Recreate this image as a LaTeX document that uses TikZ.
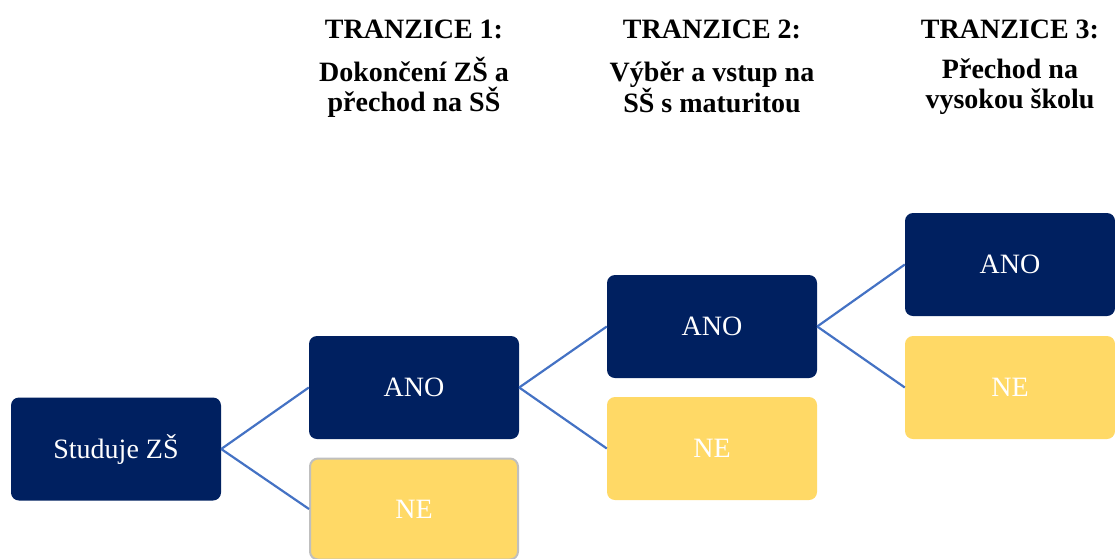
\documentclass[tikz,border=0pt]{standalone}
\usepackage{fontspec}
\setmainfont{Liberation Serif}
\usetikzlibrary{positioning}
\definecolor{AnoColor}{HTML}{002060}
\definecolor{NeColor}{HTML}{FFD966}
\definecolor{EdgeColor}{HTML}{4472C4}

\begin{document}
\begin{tikzpicture}[
      x=1pt,y=-1pt,
      box/.style={rectangle,rounded corners=8pt,minimum width=210pt,minimum height=103pt,inner sep=0pt,text=white,font=\fontsize{28}{30}\selectfont},
      ano/.style={box,fill=AnoColor},
      ne/.style={box,fill=NeColor},
      edge/.style={draw=EdgeColor,line width=2.2pt},
      head/.style={align=center,font=\fontsize{28}{30}\selectfont\bfseries}
    ]
    \useasboundingbox (0,0) rectangle (1115,558);
    \node[ano] (zs) at (116,449) {Studuje ZŠ};
    \node[ano] (ano1) at (414,387.5) {ANO};
    \node[ne,draw=black!25,line width=2pt,minimum width=208pt,minimum height=101pt] (ne1) at (414,509) {NE};
    \node[ano] (ano2) at (712,326.5) {ANO};
    \node[ne] (ne2) at (712,448.5) {NE};
    \node[ano] (ano3) at (1010,264.5) {ANO};
    \node[ne] (ne3) at (1010,387.5) {NE};
    \draw[edge] (zs.east) -- (ano1.west);
    \draw[edge] (zs.east) -- (ne1.west);
    \draw[edge] (ano1.east) -- (ano2.west);
    \draw[edge] (ano1.east) -- (ne2.west);
    \draw[edge] (ano2.east) -- (ano3.west);
    \draw[edge] (ano2.east) -- (ne3.west);
    % transition headings
    \node[head] (t1) at (414,29) {TRANZICE 1:};
    \node[head] (d1) at (414,87) {Dokončení ZŠ a\\přechod na SŠ};
    \node[head] (t2) at (712,29) {TRANZICE 2:};
    \node[head] (d2) at (712,87) {Výběr a vstup na\\SŠ s maturitou};
    \node[head] (t3) at (1010,29) {TRANZICE 3:};
    \node[head] (d3) at (1010,87) {Přechod na\\vysokou školu};
  \end{tikzpicture}
\end{document}
